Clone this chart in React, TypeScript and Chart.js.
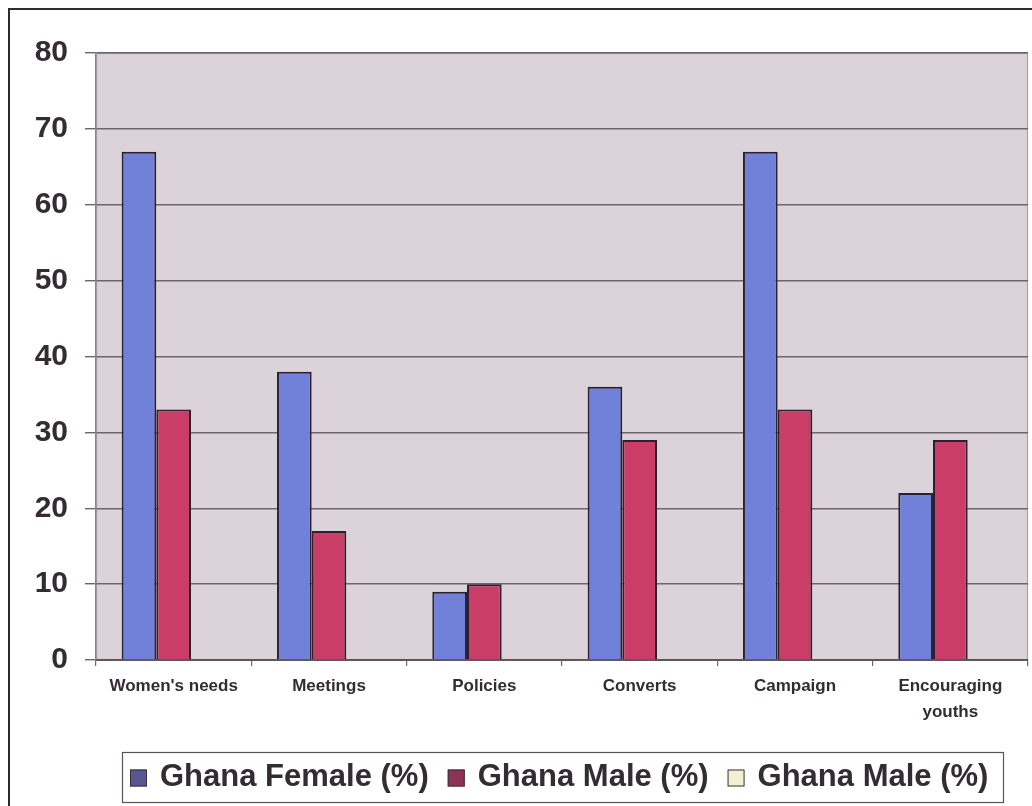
import React, { useEffect, useRef } from "react";
import { Chart, registerables } from "chart.js";

Chart.register(...registerables);

// Categories and values
const categories: (string | string[])[] = [
  "Women's needs",
  "Meetings",
  "Policies",
  "Converts",
  "Campaign",
  ["Encouraging", "youths"],
];
const femaleValues = [67, 38, 9, 36, 67, 22];
const maleValues = [33, 17, 10, 29, 33, 29];
const emptyValues: (number | null)[] = [null, null, null, null, null, null];
const seriesLabels = ["Ghana Female (%)", "Ghana Male (%)", "Ghana Male (%)"];
const yTicks = [0, 10, 20, 30, 40, 50, 60, 70, 80];

const BAR_COLORS = ["#7181da", "#c93d66", "#f5f1d6"];
const LEGEND_COLORS = ["#5a5694", "#8c3455", "#f3efd4"];
const TEXT = "#332c33";

// Plot background and frame, painted before the grid and bars
const plotBackground = {
  id: "plotBackground",
  beforeDraw(chart: any) {
    const { ctx, chartArea } = chart;
    ctx.save();
    ctx.fillStyle = "#dcd2d9";
    ctx.fillRect(chartArea.left, chartArea.top, chartArea.width, chartArea.height);
    ctx.strokeStyle = "#a8a2a6";
    ctx.lineWidth = 1.2;
    ctx.strokeRect(chartArea.left + 0.5, chartArea.top + 0.5, chartArea.width - 1, chartArea.height - 1);
    ctx.restore();
  },
};

// Boxed legend along the bottom
const boxedLegend = {
  id: "boxedLegend",
  afterDraw(chart: any) {
    const { ctx } = chart;
    const boxLeft = 112;
    const boxTop = 742;
    const boxRight = 993;
    const boxBottom = 792;
    ctx.save();
    ctx.strokeStyle = "#5a5458";
    ctx.lineWidth = 1.2;
    ctx.strokeRect(boxLeft + 0.5, boxTop + 0.5, boxRight - boxLeft, boxBottom - boxTop);

    ctx.font = "bold 31px Arial, 'Liberation Sans', sans-serif";
    ctx.textBaseline = "middle";
    ctx.textAlign = "left";
    const cy = 767;
    const sq = 17;
    let x = boxLeft + 8;
    chart.data.datasets.forEach((ds: any, i: number) => {
      ctx.fillStyle = LEGEND_COLORS[i];
      ctx.fillRect(x, cy - sq / 2 + 1, sq, sq);
      ctx.strokeStyle = "#3a3038";
      ctx.lineWidth = 1;
      ctx.strokeRect(x + 0.5, cy - sq / 2 + 1.5, sq - 1, sq - 1);
      x += sq + 13;
      ctx.fillStyle = TEXT;
      ctx.fillText(ds.label, x, cy);
      x += ctx.measureText(ds.label).width + 19;
    });
    ctx.restore();
  },
};

export default function App() {
  const canvasRef = useRef<HTMLCanvasElement | null>(null);

  useEffect(() => {
    if (!canvasRef.current) return;
    const chart = new Chart(canvasRef.current, {
      type: "bar",
      data: {
        labels: categories,
        datasets: [
          {
            label: seriesLabels[0],
            data: femaleValues,
            backgroundColor: BAR_COLORS[0],
            borderColor: "#2a2030",
            borderWidth: 2,
          },
          {
            label: seriesLabels[1],
            data: maleValues,
            backgroundColor: BAR_COLORS[1],
            borderColor: "#2a2030",
            borderWidth: 2,
          },
          {
            label: seriesLabels[2],
            data: emptyValues,
            backgroundColor: BAR_COLORS[2],
            borderColor: "#2a2030",
            borderWidth: 2,
          },
        ],
      },
      options: {
        responsive: false,
        animation: false,
        maintainAspectRatio: false,
        layout: { padding: { top: 43, right: 4, bottom: 60, left: 0 } },
        datasets: {
          bar: { categoryPercentage: 0.67, barPercentage: 1 },
        },
        plugins: {
          legend: { display: false },
          tooltip: { enabled: false },
        },
        scales: {
          x: {
            afterFit: (scale: any) => {
              scale.height = 86;
            },
            grid: {
              offset: true,
              drawOnChartArea: false,
              drawTicks: true,
              tickLength: 6,
              color: "#6e686c",
              lineWidth: 1.2,
            },
            border: { display: true, color: "#5e585c", width: 2 },
            ticks: {
              color: TEXT,
              font: { family: "Arial, 'Liberation Sans', sans-serif", size: 17, weight: "bold", lineHeight: 1.5 },
              padding: 8,
              maxRotation: 0,
              autoSkip: false,
            },
          },
          y: {
            min: yTicks[0],
            max: yTicks[yTicks.length - 1],
            afterFit: (scale: any) => {
              scale.width = 86;
            },
            afterBuildTicks: (scale: any) => {
              scale.ticks = yTicks.map((v) => ({ value: v }));
            },
            grid: {
              color: "#6c666a",
              lineWidth: 1.4,
              drawTicks: true,
              tickLength: 11,
            },
            border: { display: true, color: "#8a8488", width: 1.3 },
            ticks: {
              color: TEXT,
              font: { family: "Arial, 'Liberation Sans', sans-serif", size: 30, weight: "bold" },
              padding: 17,
            },
          },
        },
      },
      plugins: [plotBackground, boxedLegend],
    });
    return () => chart.destroy();
  }, []);

  return (
    <div
      style={{
        position: "absolute",
        left: 8,
        top: 8,
        width: 1022,
        height: 796,
        borderLeft: "2px solid #2e2a2e",
        borderTop: "2px solid #2e2a2e",
        background: "#ffffff",
      }}
    >
      <canvas ref={canvasRef} width={1022} height={796} style={{ display: "block" }} />
    </div>
  );
}
